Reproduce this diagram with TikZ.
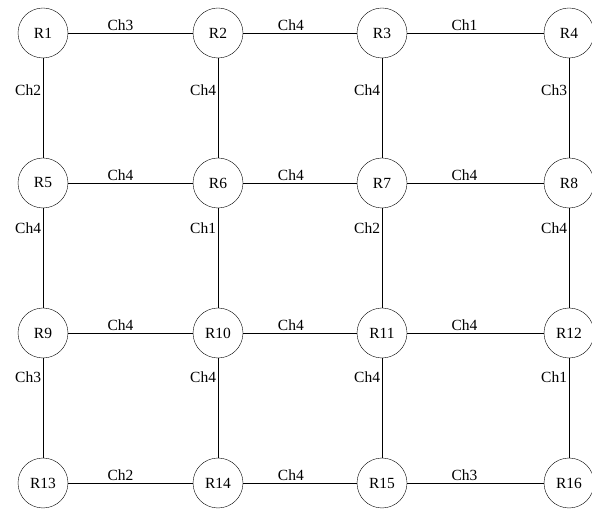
\documentclass[tikz,border=0pt]{standalone}
\usepackage{fontspec}
\setmainfont{Liberation Serif}
\begin{document}
\begin{tikzpicture}[x=1pt, y=-1pt]
        \tikzstyle{router}=[draw,shape=circle,minimum size=50pt,inner sep=0pt,font=\fontsize{15.5}{17}\selectfont]
        \tikzstyle{chan}=[font=\fontsize{15.5}{17}\selectfont,inner sep=1.5pt]
        \tikzstyle{link}=[line width=0.9pt]
        \useasboundingbox (0,0) rectangle (592,510);

        \node[router](r1) at (43,33){R1};
        \node[router](r2) at (218,33){R2};
        \node[router](r3) at (382,33){R3};
        \node[router](r4) at (569,33){R4};
        \node[router](r5) at (43,183){R5};
        \node[router](r6) at (218,183){R6};
        \node[router](r7) at (382,183){R7};
        \node[router](r8) at (569,183){R8};
        \node[router](r9) at (43,333){R9};
        \node[router](r10) at (218,333){R10};
        \node[router](r11) at (382,333){R11};
        \node[router](r12) at (569,333){R12};
        \node[router](r13) at (43,483){R13};
        \node[router](r14) at (218,483){R14};
        \node[router](r15) at (382,483){R15};
        \node[router](r16) at (569,483){R16};

        % rows
        \draw[link] (r1) -- node[chan,pos=0.42,above]{Ch3} (r2);
        \draw[link] (r2) -- node[chan,pos=0.42,above]{Ch4} (r3);
        \draw[link] (r3) -- node[chan,pos=0.42,above]{Ch1} (r4);
        \draw[link] (r5) -- node[chan,pos=0.42,above]{Ch4} (r6);
        \draw[link] (r6) -- node[chan,pos=0.42,above]{Ch4} (r7);
        \draw[link] (r7) -- node[chan,pos=0.42,above]{Ch4} (r8);
        \draw[link] (r9) -- node[chan,pos=0.42,above]{Ch4} (r10);
        \draw[link] (r10) -- node[chan,pos=0.42,above]{Ch4} (r11);
        \draw[link] (r11) -- node[chan,pos=0.42,above]{Ch4} (r12);
        \draw[link] (r13) -- node[chan,pos=0.42,above]{Ch2} (r14);
        \draw[link] (r14) -- node[chan,pos=0.42,above]{Ch4} (r15);
        \draw[link] (r15) -- node[chan,pos=0.42,above]{Ch3} (r16);

        % columns
        \draw[link] (r1) -- node[chan,pos=0.32,left]{Ch2} (r5);
        \draw[link] (r2) -- node[chan,pos=0.32,left]{Ch4} (r6);
        \draw[link] (r3) -- node[chan,pos=0.32,left]{Ch4} (r7);
        \draw[link] (r4) -- node[chan,pos=0.32,left]{Ch3} (r8);
        \draw[link] (r5) -- node[chan,pos=0.2,left]{Ch4} (r9);
        \draw[link] (r6) -- node[chan,pos=0.2,left]{Ch1} (r10);
        \draw[link] (r7) -- node[chan,pos=0.2,left]{Ch2} (r11);
        \draw[link] (r8) -- node[chan,pos=0.2,left]{Ch4} (r12);
        \draw[link] (r9) -- node[chan,pos=0.19,left]{Ch3} (r13);
        \draw[link] (r10) -- node[chan,pos=0.19,left]{Ch4} (r14);
        \draw[link] (r11) -- node[chan,pos=0.19,left]{Ch4} (r15);
        \draw[link] (r12) -- node[chan,pos=0.19,left]{Ch1} (r16);

\end{tikzpicture}
\end{document}
